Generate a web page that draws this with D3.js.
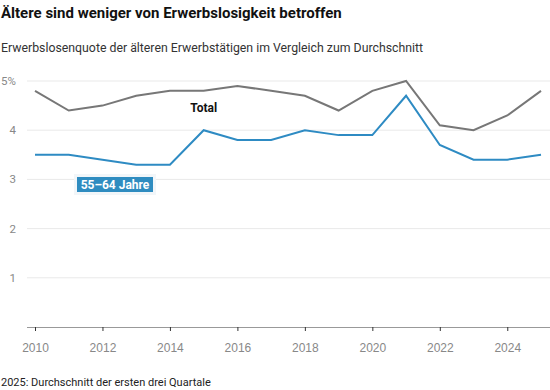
<!DOCTYPE html>
<html>
<head>
<meta charset="utf-8">
<script src="https://cdn.jsdelivr.net/npm/d3@7"></script>
<style>
  body { margin: 0; background: #fff; font-family: Roboto, "Noto Sans", sans-serif; }
  .title { font-size: 15px; font-weight: 700; fill: #111; }
  .subtitle { font-size: 12.3px; fill: #333; }
  .note { font-size: 11px; fill: #222; }
  .tick text { font-size: 12px; fill: #888; }
</style>
</head>
<body>
<script>
var years = [2010, 2011, 2012, 2013, 2014, 2015, 2016, 2017, 2018, 2019, 2020, 2021, 2022, 2023, 2024, 2025];
var total = [4.8, 4.4, 4.5, 4.7, 4.8, 4.8, 4.9, 4.8, 4.7, 4.4, 4.8, 5.0, 4.1, 4.0, 4.3, 4.8];
var aeltere = [3.5, 3.5, 3.4, 3.3, 3.3, 4.0, 3.8, 3.8, 4.0, 3.9, 3.9, 4.7, 3.7, 3.4, 3.4, 3.5];
var yTicks = [1, 2, 3, 4, 5];
var xTicks = [2010, 2012, 2014, 2016, 2018, 2020, 2022, 2024];

var width = 550, height = 390;

var svg = d3.select('body').append('svg')
    .attr('width', width)
    .attr('height', height);

svg.append('text').attr('class', 'title')
    .attr('x', 1).attr('y', 18)
    .text('Ältere sind weniger von Erwerbslosigkeit betroffen');

svg.append('text').attr('class', 'subtitle')
    .attr('x', 1).attr('y', 52)
    .text('Erwerbslosenquote der älteren Erwerbstätigen im Vergleich zum Durchschnitt');

svg.append('text').attr('class', 'note')
    .attr('x', 1).attr('y', 386)
    .text('2025: Durchschnitt der ersten drei Quartale');

var xScale = d3.scaleLinear().domain([2010, 2025]).range([35, 541]);
var yScale = d3.scaleLinear().domain([0, 5]).range([327, 81]);

// grid lines
var grid = svg.append('g');
grid.selectAll('line')
    .data(yTicks)
  .enter().append('line')
    .attr('x1', 27).attr('x2', width)
    .attr('y1', function(d) { return yScale(d); })
    .attr('y2', function(d) { return yScale(d); })
    .attr('stroke', '#e9e9e9')
    .attr('stroke-width', 1);

// y labels
var yLab = svg.append('g');
yLab.selectAll('text')
    .data(yTicks)
  .enter().append('text')
    .attr('x', 16)
    .attr('y', function(d) { return yScale(d); })
    .attr('dy', '0.35em')
    .style('font-size', '11.5px')
    .style('fill', '#888')
    .style('text-anchor', 'end')
    .text(function(d) { return d; })
  .filter(function(d) { return d == 5; })
    .style('text-anchor', 'start')
    .attr('x', 1)
    .text('5%');

// x axis
var xAxis = d3.axisBottom(xScale).tickValues(xTicks).tickFormat(d3.format('d')).tickSize(4).tickPadding(10);
var gx = svg.append('g')
    .attr('class', 'x axis')
    .attr('transform', 'translate(0,' + yScale(0) + ')')
    .call(xAxis);
gx.select('.domain').attr('d', 'M27,0.5H' + width).attr('stroke', '#999');
gx.selectAll('.tick line').attr('stroke', '#333');
gx.selectAll('.tick text').attr('dy', '0.9em');

var line = d3.line()
    .x(function(d, i) { return xScale(years[i]); })
    .y(function(d) { return yScale(d); });

svg.append('path')
    .datum(total)
    .attr('d', line)
    .attr('fill', 'none')
    .attr('stroke', '#777')
    .attr('stroke-width', 2);

svg.append('path')
    .datum(aeltere)
    .attr('d', line)
    .attr('fill', 'none')
    .attr('stroke', '#2e8bc3')
    .attr('stroke-width', 2);

// labels
svg.append('text')
    .attr('x', xScale(2015)).attr('y', yScale(4.38))
    .style('text-anchor', 'middle')
    .style('font-size', '12px')
    .style('font-weight', 700)
    .style('fill', '#111')
    .text('Total');

var lab = svg.append('g');
lab.append('rect')
    .attr('x', 75.5).attr('y', 175.5)
    .attr('width', 79).attr('height', 18)
    .attr('fill', 'none').attr('stroke', '#f2f6f9').attr('stroke-width', 3);
lab.append('rect')
    .attr('x', 77).attr('y', 177)
    .attr('width', 76).attr('height', 15)
    .attr('fill', '#2f8cc0');
lab.append('text')
    .attr('x', 115).attr('y', 189)
    .style('text-anchor', 'middle')
    .style('font-size', '12px')
    .style('font-weight', 700)
    .style('fill', '#fff')
    .text('55–64 Jahre');
</script>
</body>
</html>
